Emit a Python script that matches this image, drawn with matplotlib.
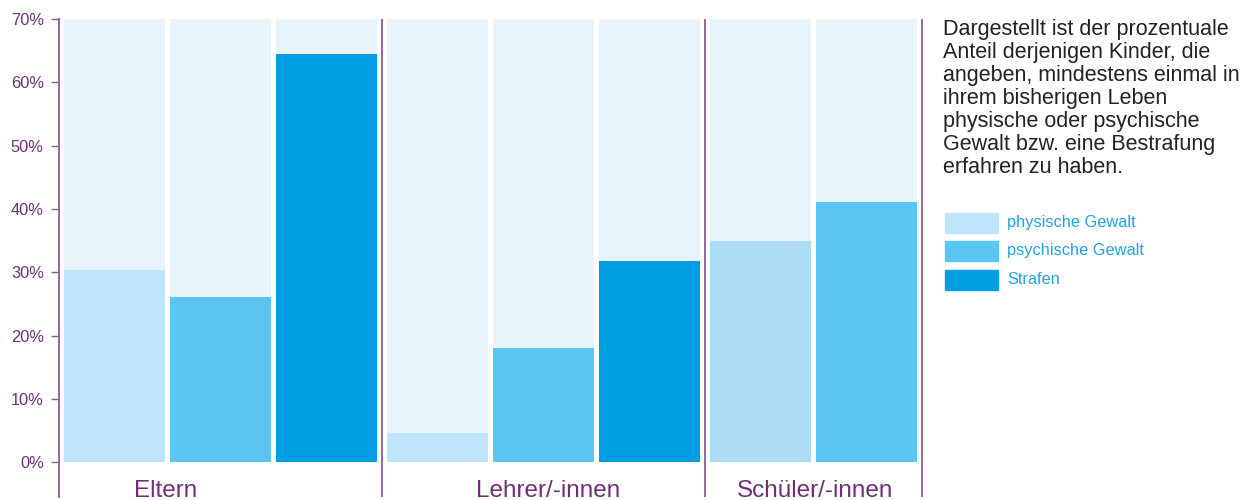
#  Kinder und Gewalt: Anteil nach Täter-Gruppe
#  bar chart with light background columns and a note on the right

import numpy as np
import matplotlib.pyplot as plt
from matplotlib.patches import Rectangle

plt.rcParams['font.family'] = ['Liberation Sans', 'DejaVu Sans']

#  Data
groups = ['Eltern', 'Lehrer/-innen', 'Schüler/-innen']
series = ['physische Gewalt', 'psychische Gewalt', 'Strafen']
eltern = [30.3, 26.1, 64.5]
lehrer = [4.6, 18.0, 31.8]
schueler = [34.9, 41.1]
group_values = [eltern, lehrer, schueler]
y_ticks = [0, 10, 20, 30, 40, 50, 60, 70]
y_tick_labels = ['0%', '10%', '20%', '30%', '40%', '50%', '60%', '70%']
note = ('Dargestellt ist der prozentuale\nAnteil derjenigen Kinder, die\n'
        'angeben, mindestens einmal in\nihrem bisherigen Leben\n'
        'physische oder psychische\nGewalt bzw. eine Bestrafung\n'
        'erfahren zu haben.')

#  Colours
BG = '#e7f4fc'
COLORS = ['#bee5fa', '#5bc5f2', '#009fe3']
SCHUELER_LIGHT = '#acdcf5'
PURPLE = '#8a5c96'
PURPLE_TEXT = '#6e2f78'
LEGEND_TEXT = '#1ea4e1'

#  Layout constants (in bar units)
GROUP_GAP = 0.047   #  extra space between groups
BAR_W = 0.953
Y_MAX = 70
Y_MIN = -5.5

fig = plt.figure(figsize=(12.44, 5.0), dpi=100)
ax = fig.add_axes([59 / 1244, 3 / 500, (925 - 59) / 1244, (481 - 3) / 500])

#  bar positions
positions = []
offset = 0.0
for g, vals in enumerate(group_values):
    pos = [offset + i for i in range(len(vals))]
    positions.append(pos)
    offset = pos[-1] + 1 + GROUP_GAP

for g, vals in enumerate(group_values):
    for i, v in enumerate(vals):
        x = positions[g][i]
        ax.bar(x, Y_MAX, width=BAR_W, color=BG, zorder=1)
        col = COLORS[i]
        if g == 2 and i == 0:
            col = SCHUELER_LIGHT
        ax.bar(x, v, width=BAR_W, color=col, zorder=2)

#  separators after each group
for g in range(len(group_values)):
    sep = positions[g][-1] + 0.5 + GROUP_GAP / 2
    ax.axvline(sep, color=PURPLE, lw=1.3, zorder=3)

#  group labels
label_x = [0.486, 4.09, 6.61]
for g, name in enumerate(groups):
    ax.text(label_x[g], -4.6, name, ha='center', va='center',
            fontsize=17.5, color=PURPLE_TEXT)

ax.set_xlim(-0.524, positions[-1][-1] + 0.552)
ax.set_ylim(Y_MIN, Y_MAX)
ax.set_yticks(y_ticks)
ax.set_yticklabels(y_tick_labels)
ax.tick_params(axis='y', length=6, width=1, color=PURPLE, labelcolor=PURPLE_TEXT,
               labelsize=11.8, pad=5)
ax.set_xticks([])
for s in ['top', 'right', 'bottom']:
    ax.spines[s].set_visible(False)
ax.spines['left'].set_color(PURPLE)
ax.spines['left'].set_linewidth(1.3)

#  right hand note and legend, in pixel coordinates
tx = fig.add_axes([930 / 1244, 0, 314 / 1244, 1])
tx.set_xlim(930, 1244)
tx.set_ylim(500, 0)
tx.axis('off')
tx.text(943, 19, note, ha='left', va='top', fontsize=15.5,
        color='#222222', linespacing=1.12)
legend_y = [223, 251, 280]
for i, name in enumerate(series):
    tx.add_patch(Rectangle((945, legend_y[i] - 10), 53, 20, color=COLORS[i]))
    tx.text(1007, legend_y[i], name, ha='left', va='center', fontsize=11.8,
            color=LEGEND_TEXT)

plt.savefig('out.png', dpi=100)
